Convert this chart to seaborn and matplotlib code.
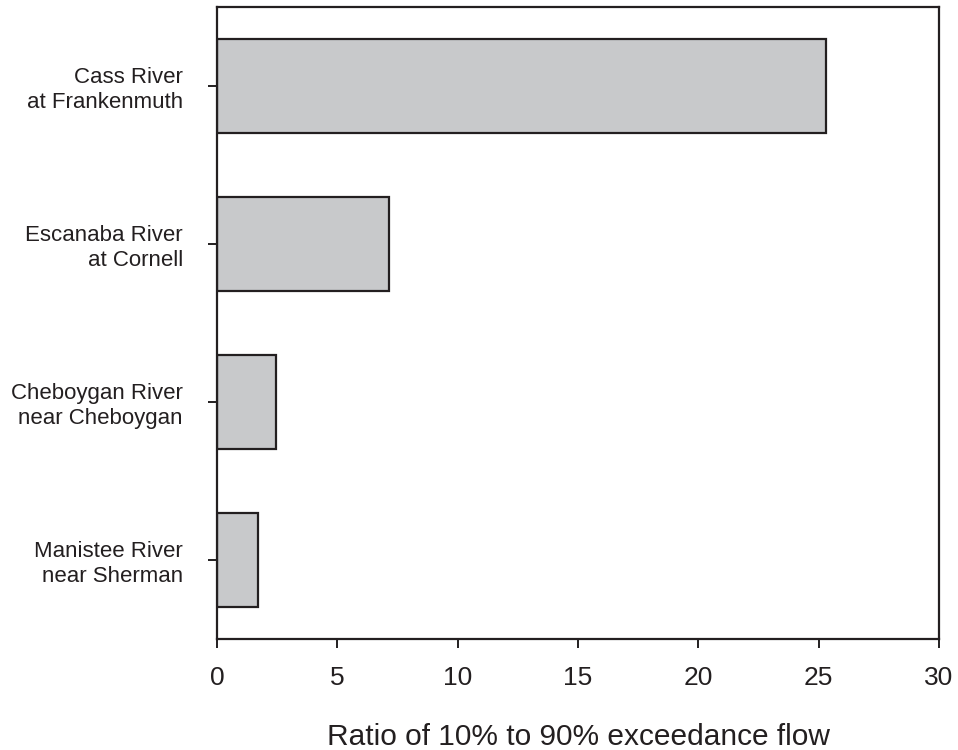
import pandas as pd
import seaborn as sns
import matplotlib.pyplot as plt

sites = ['Cass River\nat Frankenmuth', 'Escanaba River\nat Cornell',
         'Cheboygan River\nnear Cheboygan', 'Manistee River\nnear Sherman']
ratios = [25.3, 7.15, 2.45, 1.72]

df = pd.DataFrame({'Site': sites, 'Ratio': ratios})

ink = '#231f20'
sns.set_style('ticks')
plt.rcParams['font.family'] = ['Liberation Sans', 'DejaVu Sans']

fig = plt.figure(figsize=(9.58, 7.5), dpi=100)
ax = fig.add_axes([0.2265, 0.148, 0.7537, 0.8427])

sns.barplot(data=df, x='Ratio', y='Site', orient='h', color='#c8c9cb',
            saturation=1, edgecolor=ink, linewidth=1.6, width=0.6, ax=ax)

ax.set_xlim(0, 30)
ax.set_ylim(3.5, -0.5)
ax.set_xticks([0, 5, 10, 15, 20, 25, 30])
ax.set_xlabel('Ratio of 10% to 90% exceedance flow', fontsize=21.5, color=ink, labelpad=24)
ax.set_ylabel('')

for s in ax.spines.values():
    s.set_visible(True)
    s.set_color(ink)
    s.set_linewidth(1.6)

ax.tick_params(axis='x', labelsize=19, length=6.5, width=1.4, color=ink, labelcolor=ink, pad=13)
ax.tick_params(axis='y', labelsize=16, length=6.5, width=1.4, color=ink, labelcolor=ink, pad=18)
ax.tick_params(top=False, right=False)
for lbl in ax.get_yticklabels():
    lbl.set_linespacing(1.25)

fig.savefig('out.png', dpi=100)
